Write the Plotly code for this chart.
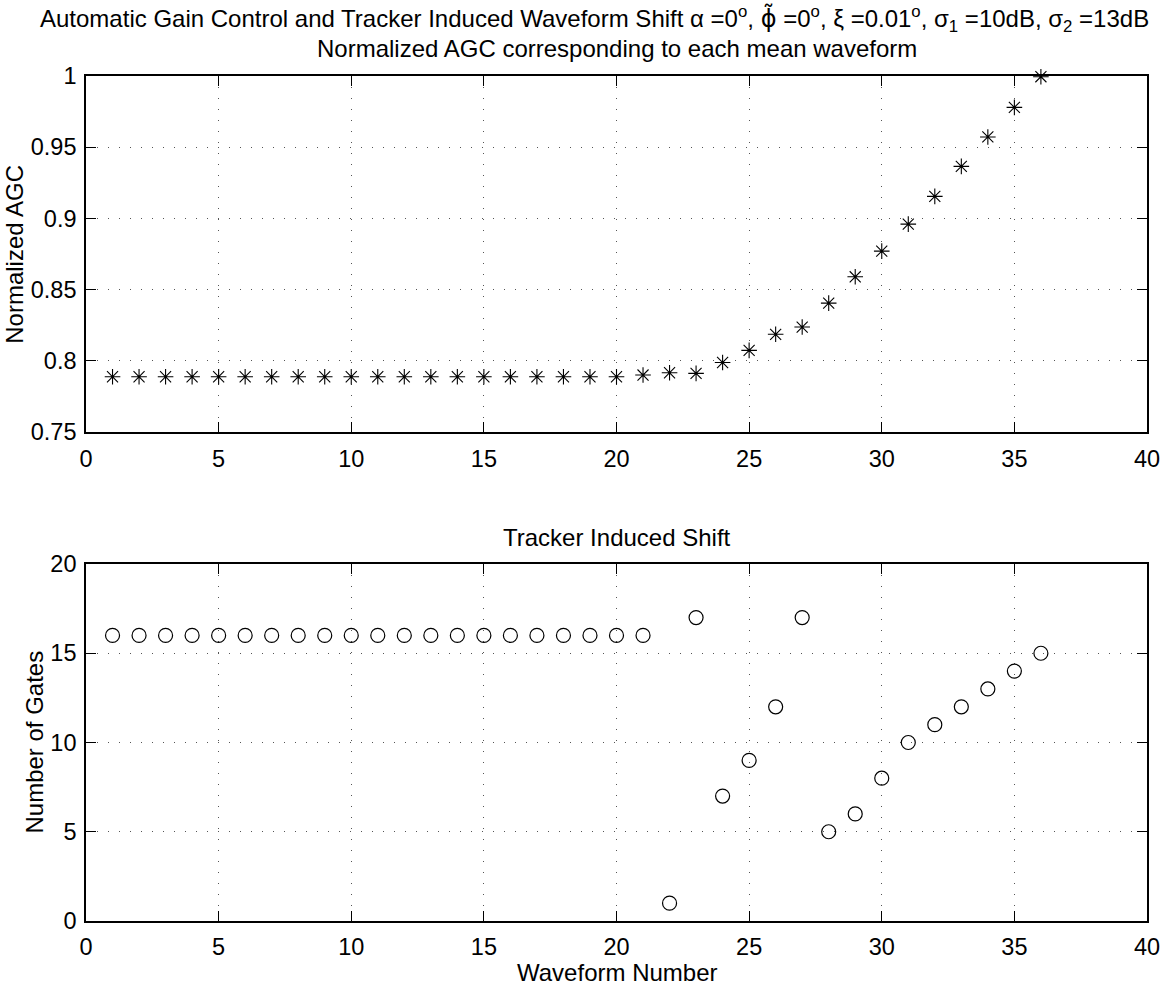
import plotly.graph_objects as go

waveform = list(range(1, 37))
agc = [0.7888] * 20 + [0.790, 0.7916, 0.7912, 0.7988, 0.8073, 0.8186, 0.8237, 0.8405,
                       0.859, 0.877, 0.896, 0.9155, 0.9365, 0.9572, 0.978, 0.9995]
gates = [16] * 21 + [1, 17, 7, 9, 12, 17, 5, 6, 8, 10, 11, 12, 13, 14, 15]

x_ticks = [0, 5, 10, 15, 20, 25, 30, 35, 40]
agc_ticks = [0.75, 0.8, 0.85, 0.9, 0.95, 1.0]
agc_labels = ["0.75", "0.8", "0.85", "0.9", "0.95", "1"]
gate_ticks = [0, 5, 10, 15, 20]

FONT = "Liberation Sans, Arial, sans-serif"
tfs = 23.5  # tick label size
lfs = 24    # title / label size

# page geometry (pixels)
L, R, T, B = 86, 14, 76, 65
W, H = 1172, 986
PW, PH = W - L - R, H - T - B


def py(p):
    return (H - B - p) / PH


def px(p):
    return (p - L) / PW


fig = go.Figure()
fig.add_trace(go.Scatter(x=waveform, y=agc, mode="markers", xaxis="x", yaxis="y",
                         marker=dict(symbol="asterisk-open", size=13, color="black",
                                     line=dict(color="black", width=1.1)),
                         cliponaxis=False, showlegend=False))
fig.add_trace(go.Scatter(x=waveform, y=gates, mode="markers", xaxis="x2", yaxis="y2",
                         marker=dict(symbol="circle-open", size=14, color="black",
                                     line=dict(color="black", width=1.2)),
                         cliponaxis=False, showlegend=False))

common = dict(showline=True, linecolor="black", linewidth=1.6, mirror="ticks",
              ticks="inside", ticklen=10, tickwidth=1, tickcolor="black", showgrid=True,
              gridcolor="#555", gridwidth=1, griddash="1px,10px", zeroline=False,
              tickfont=dict(family=FONT, size=tfs, color="black"))

fig.update_layout(
    width=W, height=H,
    margin=dict(l=L, r=R, t=T, b=B),
    paper_bgcolor="white", plot_bgcolor="white",
    font=dict(family=FONT, size=lfs, color="black"),
    xaxis=dict(domain=[0, 1], range=[0, 40], tickvals=x_ticks, anchor="y",
               ticklabelstandoff=5, **common),
    yaxis=dict(domain=[py(432), 1], range=[0.75, 1], tickvals=agc_ticks, ticktext=agc_labels,
               anchor="x", ticklabelstandoff=3, **common),
    xaxis2=dict(domain=[0, 1], range=[0, 40], tickvals=x_ticks, anchor="y2",
                ticklabelstandoff=4, **common),
    yaxis2=dict(domain=[0, py(564)], range=[0, 20], tickvals=gate_ticks, anchor="x2",
                ticklabelstandoff=3, **common),
    annotations=[
        dict(text="Automatic Gain Control and Tracker Induced Waveform Shift α =0<sup>o</sup>, "
                  "<span style='font-family:DejaVu Sans'>\u03d5\u0303</span> =0<sup>o</sup>, "
                  "ξ =0.01<sup>o</sup>, σ<sub>1</sub> =10dB, σ<sub>2</sub> =13dB",
             x=px(600), y=py(19), xref="paper", yref="paper", showarrow=False,
             xanchor="center", yanchor="middle", font=dict(family=FONT, size=lfs)),
        dict(text="Normalized AGC corresponding to each mean waveform",
             x=0.5, y=py(49), xref="paper", yref="paper", showarrow=False,
             xanchor="center", yanchor="middle", font=dict(family=FONT, size=lfs)),
        dict(text="Tracker Induced Shift",
             x=0.5, y=py(537), xref="paper", yref="paper", showarrow=False,
             xanchor="center", yanchor="middle", font=dict(family=FONT, size=lfs)),
        dict(text="Waveform Number",
             x=0.5, y=py(972), xref="paper", yref="paper", showarrow=False,
             xanchor="center", yanchor="middle", font=dict(family=FONT, size=lfs)),
        dict(text="Normalized AGC", textangle=-90,
             x=px(13), y=py(254), xref="paper", yref="paper", showarrow=False,
             xanchor="center", yanchor="middle", font=dict(family=FONT, size=lfs)),
        dict(text="Number of Gates", textangle=-90,
             x=px(33), y=py(742), xref="paper", yref="paper", showarrow=False,
             xanchor="center", yanchor="middle", font=dict(family=FONT, size=lfs)),
    ],
)

fig.write_html("out.html")
